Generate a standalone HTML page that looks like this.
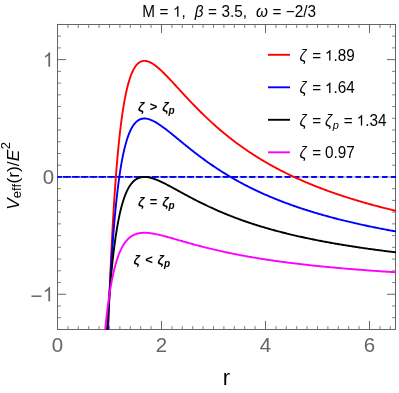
<!DOCTYPE html>
<html><head><meta charset="utf-8"><title>plot</title>
<style>
html,body{margin:0;padding:0;background:#fff;}
body{width:399px;height:393px;overflow:hidden;font-family:"Liberation Sans",sans-serif;}
svg{display:block;will-change:transform;}
text{font-family:"Liberation Sans",sans-serif;font-kerning:none;}
</style></head><body>
<svg width="399" height="393" viewBox="0 0 399 393">
<rect x="0" y="0" width="399" height="393" fill="#ffffff"/>
<defs><clipPath id="c"><rect x="57.00" y="24.00" width="339.00" height="306.00"/></clipPath></defs>

<g>
<line x1="57.50" y1="329.50" x2="57.50" y2="321.00" stroke="#666666" stroke-width="1"/>
<line x1="57.50" y1="24.50" x2="57.50" y2="33.00" stroke="#666666" stroke-width="1"/>
<line x1="67.90" y1="329.50" x2="67.90" y2="326.10" stroke="#707070" stroke-width="0.9"/>
<line x1="67.90" y1="24.50" x2="67.90" y2="27.90" stroke="#707070" stroke-width="0.9"/>
<line x1="78.30" y1="329.50" x2="78.30" y2="326.10" stroke="#707070" stroke-width="0.9"/>
<line x1="78.30" y1="24.50" x2="78.30" y2="27.90" stroke="#707070" stroke-width="0.9"/>
<line x1="88.70" y1="329.50" x2="88.70" y2="326.10" stroke="#707070" stroke-width="0.9"/>
<line x1="88.70" y1="24.50" x2="88.70" y2="27.90" stroke="#707070" stroke-width="0.9"/>
<line x1="99.10" y1="329.50" x2="99.10" y2="326.10" stroke="#707070" stroke-width="0.9"/>
<line x1="99.10" y1="24.50" x2="99.10" y2="27.90" stroke="#707070" stroke-width="0.9"/>
<line x1="109.50" y1="329.50" x2="109.50" y2="326.10" stroke="#707070" stroke-width="0.9"/>
<line x1="109.50" y1="24.50" x2="109.50" y2="27.90" stroke="#707070" stroke-width="0.9"/>
<line x1="119.90" y1="329.50" x2="119.90" y2="326.10" stroke="#707070" stroke-width="0.9"/>
<line x1="119.90" y1="24.50" x2="119.90" y2="27.90" stroke="#707070" stroke-width="0.9"/>
<line x1="130.30" y1="329.50" x2="130.30" y2="326.10" stroke="#707070" stroke-width="0.9"/>
<line x1="130.30" y1="24.50" x2="130.30" y2="27.90" stroke="#707070" stroke-width="0.9"/>
<line x1="140.70" y1="329.50" x2="140.70" y2="326.10" stroke="#707070" stroke-width="0.9"/>
<line x1="140.70" y1="24.50" x2="140.70" y2="27.90" stroke="#707070" stroke-width="0.9"/>
<line x1="151.10" y1="329.50" x2="151.10" y2="326.10" stroke="#707070" stroke-width="0.9"/>
<line x1="151.10" y1="24.50" x2="151.10" y2="27.90" stroke="#707070" stroke-width="0.9"/>
<line x1="161.50" y1="329.50" x2="161.50" y2="321.00" stroke="#666666" stroke-width="1"/>
<line x1="161.50" y1="24.50" x2="161.50" y2="33.00" stroke="#666666" stroke-width="1"/>
<line x1="171.90" y1="329.50" x2="171.90" y2="326.10" stroke="#707070" stroke-width="0.9"/>
<line x1="171.90" y1="24.50" x2="171.90" y2="27.90" stroke="#707070" stroke-width="0.9"/>
<line x1="182.30" y1="329.50" x2="182.30" y2="326.10" stroke="#707070" stroke-width="0.9"/>
<line x1="182.30" y1="24.50" x2="182.30" y2="27.90" stroke="#707070" stroke-width="0.9"/>
<line x1="192.70" y1="329.50" x2="192.70" y2="326.10" stroke="#707070" stroke-width="0.9"/>
<line x1="192.70" y1="24.50" x2="192.70" y2="27.90" stroke="#707070" stroke-width="0.9"/>
<line x1="203.10" y1="329.50" x2="203.10" y2="326.10" stroke="#707070" stroke-width="0.9"/>
<line x1="203.10" y1="24.50" x2="203.10" y2="27.90" stroke="#707070" stroke-width="0.9"/>
<line x1="213.50" y1="329.50" x2="213.50" y2="326.10" stroke="#707070" stroke-width="0.9"/>
<line x1="213.50" y1="24.50" x2="213.50" y2="27.90" stroke="#707070" stroke-width="0.9"/>
<line x1="223.90" y1="329.50" x2="223.90" y2="326.10" stroke="#707070" stroke-width="0.9"/>
<line x1="223.90" y1="24.50" x2="223.90" y2="27.90" stroke="#707070" stroke-width="0.9"/>
<line x1="234.30" y1="329.50" x2="234.30" y2="326.10" stroke="#707070" stroke-width="0.9"/>
<line x1="234.30" y1="24.50" x2="234.30" y2="27.90" stroke="#707070" stroke-width="0.9"/>
<line x1="244.70" y1="329.50" x2="244.70" y2="326.10" stroke="#707070" stroke-width="0.9"/>
<line x1="244.70" y1="24.50" x2="244.70" y2="27.90" stroke="#707070" stroke-width="0.9"/>
<line x1="255.10" y1="329.50" x2="255.10" y2="326.10" stroke="#707070" stroke-width="0.9"/>
<line x1="255.10" y1="24.50" x2="255.10" y2="27.90" stroke="#707070" stroke-width="0.9"/>
<line x1="265.50" y1="329.50" x2="265.50" y2="321.00" stroke="#666666" stroke-width="1"/>
<line x1="265.50" y1="24.50" x2="265.50" y2="33.00" stroke="#666666" stroke-width="1"/>
<line x1="275.90" y1="329.50" x2="275.90" y2="326.10" stroke="#707070" stroke-width="0.9"/>
<line x1="275.90" y1="24.50" x2="275.90" y2="27.90" stroke="#707070" stroke-width="0.9"/>
<line x1="286.30" y1="329.50" x2="286.30" y2="326.10" stroke="#707070" stroke-width="0.9"/>
<line x1="286.30" y1="24.50" x2="286.30" y2="27.90" stroke="#707070" stroke-width="0.9"/>
<line x1="296.70" y1="329.50" x2="296.70" y2="326.10" stroke="#707070" stroke-width="0.9"/>
<line x1="296.70" y1="24.50" x2="296.70" y2="27.90" stroke="#707070" stroke-width="0.9"/>
<line x1="307.10" y1="329.50" x2="307.10" y2="326.10" stroke="#707070" stroke-width="0.9"/>
<line x1="307.10" y1="24.50" x2="307.10" y2="27.90" stroke="#707070" stroke-width="0.9"/>
<line x1="317.50" y1="329.50" x2="317.50" y2="326.10" stroke="#707070" stroke-width="0.9"/>
<line x1="317.50" y1="24.50" x2="317.50" y2="27.90" stroke="#707070" stroke-width="0.9"/>
<line x1="327.90" y1="329.50" x2="327.90" y2="326.10" stroke="#707070" stroke-width="0.9"/>
<line x1="327.90" y1="24.50" x2="327.90" y2="27.90" stroke="#707070" stroke-width="0.9"/>
<line x1="338.30" y1="329.50" x2="338.30" y2="326.10" stroke="#707070" stroke-width="0.9"/>
<line x1="338.30" y1="24.50" x2="338.30" y2="27.90" stroke="#707070" stroke-width="0.9"/>
<line x1="348.70" y1="329.50" x2="348.70" y2="326.10" stroke="#707070" stroke-width="0.9"/>
<line x1="348.70" y1="24.50" x2="348.70" y2="27.90" stroke="#707070" stroke-width="0.9"/>
<line x1="359.10" y1="329.50" x2="359.10" y2="326.10" stroke="#707070" stroke-width="0.9"/>
<line x1="359.10" y1="24.50" x2="359.10" y2="27.90" stroke="#707070" stroke-width="0.9"/>
<line x1="369.50" y1="329.50" x2="369.50" y2="321.00" stroke="#666666" stroke-width="1"/>
<line x1="369.50" y1="24.50" x2="369.50" y2="33.00" stroke="#666666" stroke-width="1"/>
<line x1="379.90" y1="329.50" x2="379.90" y2="326.10" stroke="#707070" stroke-width="0.9"/>
<line x1="379.90" y1="24.50" x2="379.90" y2="27.90" stroke="#707070" stroke-width="0.9"/>
<line x1="390.30" y1="329.50" x2="390.30" y2="326.10" stroke="#707070" stroke-width="0.9"/>
<line x1="390.30" y1="24.50" x2="390.30" y2="27.90" stroke="#707070" stroke-width="0.9"/>
<line x1="57.50" y1="329.45" x2="60.90" y2="329.45" stroke="#707070" stroke-width="0.9"/>
<line x1="395.50" y1="329.45" x2="392.10" y2="329.45" stroke="#707070" stroke-width="0.9"/>
<line x1="57.50" y1="317.72" x2="60.90" y2="317.72" stroke="#707070" stroke-width="0.9"/>
<line x1="395.50" y1="317.72" x2="392.10" y2="317.72" stroke="#707070" stroke-width="0.9"/>
<line x1="57.50" y1="305.99" x2="60.90" y2="305.99" stroke="#707070" stroke-width="0.9"/>
<line x1="395.50" y1="305.99" x2="392.10" y2="305.99" stroke="#707070" stroke-width="0.9"/>
<line x1="57.50" y1="294.26" x2="66.00" y2="294.26" stroke="#666666" stroke-width="1"/>
<line x1="395.50" y1="294.26" x2="387.00" y2="294.26" stroke="#666666" stroke-width="1"/>
<line x1="57.50" y1="282.53" x2="60.90" y2="282.53" stroke="#707070" stroke-width="0.9"/>
<line x1="395.50" y1="282.53" x2="392.10" y2="282.53" stroke="#707070" stroke-width="0.9"/>
<line x1="57.50" y1="270.80" x2="60.90" y2="270.80" stroke="#707070" stroke-width="0.9"/>
<line x1="395.50" y1="270.80" x2="392.10" y2="270.80" stroke="#707070" stroke-width="0.9"/>
<line x1="57.50" y1="259.07" x2="60.90" y2="259.07" stroke="#707070" stroke-width="0.9"/>
<line x1="395.50" y1="259.07" x2="392.10" y2="259.07" stroke="#707070" stroke-width="0.9"/>
<line x1="57.50" y1="247.34" x2="60.90" y2="247.34" stroke="#707070" stroke-width="0.9"/>
<line x1="395.50" y1="247.34" x2="392.10" y2="247.34" stroke="#707070" stroke-width="0.9"/>
<line x1="57.50" y1="235.60" x2="60.90" y2="235.60" stroke="#707070" stroke-width="0.9"/>
<line x1="395.50" y1="235.60" x2="392.10" y2="235.60" stroke="#707070" stroke-width="0.9"/>
<line x1="57.50" y1="223.87" x2="60.90" y2="223.87" stroke="#707070" stroke-width="0.9"/>
<line x1="395.50" y1="223.87" x2="392.10" y2="223.87" stroke="#707070" stroke-width="0.9"/>
<line x1="57.50" y1="212.14" x2="60.90" y2="212.14" stroke="#707070" stroke-width="0.9"/>
<line x1="395.50" y1="212.14" x2="392.10" y2="212.14" stroke="#707070" stroke-width="0.9"/>
<line x1="57.50" y1="200.41" x2="60.90" y2="200.41" stroke="#707070" stroke-width="0.9"/>
<line x1="395.50" y1="200.41" x2="392.10" y2="200.41" stroke="#707070" stroke-width="0.9"/>
<line x1="57.50" y1="188.68" x2="60.90" y2="188.68" stroke="#707070" stroke-width="0.9"/>
<line x1="395.50" y1="188.68" x2="392.10" y2="188.68" stroke="#707070" stroke-width="0.9"/>
<line x1="57.50" y1="176.95" x2="66.00" y2="176.95" stroke="#666666" stroke-width="1"/>
<line x1="395.50" y1="176.95" x2="387.00" y2="176.95" stroke="#666666" stroke-width="1"/>
<line x1="57.50" y1="165.22" x2="60.90" y2="165.22" stroke="#707070" stroke-width="0.9"/>
<line x1="395.50" y1="165.22" x2="392.10" y2="165.22" stroke="#707070" stroke-width="0.9"/>
<line x1="57.50" y1="153.49" x2="60.90" y2="153.49" stroke="#707070" stroke-width="0.9"/>
<line x1="395.50" y1="153.49" x2="392.10" y2="153.49" stroke="#707070" stroke-width="0.9"/>
<line x1="57.50" y1="141.76" x2="60.90" y2="141.76" stroke="#707070" stroke-width="0.9"/>
<line x1="395.50" y1="141.76" x2="392.10" y2="141.76" stroke="#707070" stroke-width="0.9"/>
<line x1="57.50" y1="130.03" x2="60.90" y2="130.03" stroke="#707070" stroke-width="0.9"/>
<line x1="395.50" y1="130.03" x2="392.10" y2="130.03" stroke="#707070" stroke-width="0.9"/>
<line x1="57.50" y1="118.29" x2="60.90" y2="118.29" stroke="#707070" stroke-width="0.9"/>
<line x1="395.50" y1="118.29" x2="392.10" y2="118.29" stroke="#707070" stroke-width="0.9"/>
<line x1="57.50" y1="106.56" x2="60.90" y2="106.56" stroke="#707070" stroke-width="0.9"/>
<line x1="395.50" y1="106.56" x2="392.10" y2="106.56" stroke="#707070" stroke-width="0.9"/>
<line x1="57.50" y1="94.83" x2="60.90" y2="94.83" stroke="#707070" stroke-width="0.9"/>
<line x1="395.50" y1="94.83" x2="392.10" y2="94.83" stroke="#707070" stroke-width="0.9"/>
<line x1="57.50" y1="83.10" x2="60.90" y2="83.10" stroke="#707070" stroke-width="0.9"/>
<line x1="395.50" y1="83.10" x2="392.10" y2="83.10" stroke="#707070" stroke-width="0.9"/>
<line x1="57.50" y1="71.37" x2="60.90" y2="71.37" stroke="#707070" stroke-width="0.9"/>
<line x1="395.50" y1="71.37" x2="392.10" y2="71.37" stroke="#707070" stroke-width="0.9"/>
<line x1="57.50" y1="59.64" x2="66.00" y2="59.64" stroke="#666666" stroke-width="1"/>
<line x1="395.50" y1="59.64" x2="387.00" y2="59.64" stroke="#666666" stroke-width="1"/>
<line x1="57.50" y1="47.91" x2="60.90" y2="47.91" stroke="#707070" stroke-width="0.9"/>
<line x1="395.50" y1="47.91" x2="392.10" y2="47.91" stroke="#707070" stroke-width="0.9"/>
<line x1="57.50" y1="36.18" x2="60.90" y2="36.18" stroke="#707070" stroke-width="0.9"/>
<line x1="395.50" y1="36.18" x2="392.10" y2="36.18" stroke="#707070" stroke-width="0.9"/>
<line x1="57.50" y1="24.45" x2="60.90" y2="24.45" stroke="#707070" stroke-width="0.9"/>
<line x1="395.50" y1="24.45" x2="392.10" y2="24.45" stroke="#707070" stroke-width="0.9"/>
</g>
<rect x="57.50" y="24.50" width="338.00" height="305.00" fill="none" stroke="#666666" stroke-width="1"/>
<g clip-path="url(#c)">
<line x1="57.50" y1="176.95" x2="395.50" y2="176.95" stroke="#c0c0c0" stroke-width="1.5"/>
<line x1="396.1" y1="176.95" x2="57.5" y2="176.95" stroke="#0000ff" stroke-width="1.75" stroke-dasharray="5.2 3.663"/>
<line x1="396.19" y1="176.95" x2="57.5" y2="176.95" stroke="#0000ff" stroke-width="1.75" stroke-dasharray="5.2 3.59"/>
<path d="M107.21 358.65 L107.40 352.52 L107.60 346.51 L107.80 340.63 L107.99 334.86 L108.19 329.20 L108.39 323.66 L108.58 318.23 L108.78 312.90 L108.98 307.68 L109.17 302.56 L109.37 297.55 L109.57 292.63 L109.76 287.81 L109.96 283.09 L110.16 278.45 L110.35 273.91 L110.55 269.46 L110.75 265.10 L110.94 260.82 L111.14 256.62 L111.34 252.51 L111.53 248.47 L111.73 244.52 L111.93 240.64 L112.12 236.83 L112.32 233.11 L112.52 229.45 L112.71 225.86 L112.91 222.35 L113.11 218.90 L113.30 215.52 L113.50 212.20 L113.69 208.95 L113.89 205.76 L114.09 202.64 L114.28 199.57 L114.48 196.56 L114.68 193.61 L114.87 190.72 L115.07 187.89 L115.27 185.11 L115.46 182.38 L115.66 179.70 L115.86 177.08 L116.05 174.51 L116.25 171.99 L116.45 169.51 L116.64 167.09 L116.84 164.71 L117.04 162.37 L117.23 160.09 L117.43 157.84 L117.63 155.64 L117.82 153.49 L118.02 151.37 L118.22 149.30 L118.41 147.26 L118.61 145.27 L118.81 143.31 L119.00 141.40 L119.20 139.52 L119.40 137.67 L119.59 135.86 L119.79 134.09 L119.99 132.36 L120.18 130.65 L120.38 128.98 L120.58 127.35 L120.77 125.74 L120.97 124.17 L121.17 122.63 L121.36 121.11 L121.56 119.63 L121.76 118.18 L121.95 116.76 L122.15 115.36 L122.35 113.99 L122.54 112.66 L122.74 111.34 L122.94 110.06 L123.13 108.80 L123.33 107.56 L123.53 106.35 L123.72 105.17 L123.92 104.00 L124.12 102.87 L124.31 101.75 L124.51 100.66 L124.71 99.59 L124.90 98.54 L125.10 97.52 L126.16 92.33 L127.23 87.71 L128.29 83.61 L129.36 79.98 L130.42 76.77 L131.48 73.96 L132.55 71.50 L133.61 69.37 L134.68 67.54 L135.74 65.98 L136.81 64.66 L137.87 63.58 L138.93 62.70 L140.00 62.01 L141.06 61.49 L142.13 61.14 L143.19 60.92 L144.25 60.85 L145.32 60.89 L146.38 61.04 L147.45 61.30 L148.51 61.64 L149.57 62.08 L150.64 62.59 L151.70 63.16 L152.77 63.81 L153.83 64.51 L154.89 65.27 L155.96 66.07 L157.02 66.92 L158.09 67.80 L159.15 68.73 L160.22 69.68 L161.28 70.67 L162.34 71.67 L163.41 72.71 L164.47 73.76 L165.54 74.83 L166.60 75.92 L167.66 77.02 L168.73 78.14 L169.79 79.26 L170.86 80.39 L171.92 81.53 L172.98 82.68 L174.05 83.83 L175.11 84.99 L176.18 86.15 L177.24 87.31 L178.30 88.47 L179.37 89.63 L180.43 90.78 L181.50 91.94 L182.56 93.10 L183.63 94.25 L184.69 95.40 L185.75 96.55 L186.82 97.69 L187.88 98.82 L188.95 99.95 L190.01 101.08 L191.07 102.20 L192.14 103.31 L193.20 104.42 L194.27 105.52 L195.33 106.62 L196.39 107.70 L197.46 108.78 L198.52 109.86 L199.59 110.92 L200.65 111.98 L201.71 113.03 L202.78 114.07 L203.84 115.11 L204.91 116.13 L205.97 117.15 L207.04 118.16 L208.10 119.16 L209.16 120.16 L210.23 121.14 L211.29 122.12 L212.36 123.09 L213.42 124.05 L214.48 125.01 L215.55 125.95 L216.61 126.89 L217.68 127.82 L218.74 128.74 L219.80 129.66 L220.87 130.56 L221.93 131.46 L223.00 132.35 L224.06 133.23 L225.12 134.10 L226.19 134.97 L227.25 135.83 L228.32 136.68 L229.38 137.52 L230.45 138.36 L231.51 139.19 L232.57 140.01 L233.64 140.82 L234.70 141.63 L235.77 142.42 L236.83 143.22 L237.89 144.00 L238.96 144.78 L240.02 145.55 L241.09 146.31 L242.15 147.07 L243.21 147.82 L244.28 148.56 L245.34 149.30 L246.41 150.03 L247.47 150.75 L248.53 151.47 L249.60 152.18 L250.66 152.88 L251.73 153.58 L252.79 154.27 L253.86 154.96 L254.92 155.64 L255.98 156.31 L257.05 156.98 L258.11 157.64 L259.18 158.30 L260.24 158.95 L261.30 159.59 L262.37 160.23 L263.43 160.86 L264.50 161.49 L265.56 162.11 L266.62 162.73 L267.69 163.34 L268.75 163.95 L269.82 164.55 L270.88 165.15 L271.94 165.74 L273.01 166.32 L274.07 166.90 L275.14 167.48 L276.20 168.05 L277.27 168.62 L278.33 169.18 L279.39 169.73 L280.46 170.29 L281.52 170.83 L282.59 171.38 L283.65 171.92 L284.71 172.45 L285.78 172.98 L286.84 173.50 L287.91 174.02 L288.97 174.54 L290.03 175.05 L291.10 175.56 L292.16 176.06 L293.23 176.56 L294.29 177.06 L295.35 177.55 L296.42 178.04 L297.48 178.52 L298.55 179.00 L299.61 179.48 L300.68 179.95 L301.74 180.42 L302.80 180.89 L303.87 181.35 L304.93 181.80 L306.00 182.26 L307.06 182.71 L308.12 183.16 L309.19 183.60 L310.25 184.04 L311.32 184.48 L312.38 184.91 L313.44 185.34 L314.51 185.77 L315.57 186.19 L316.64 186.61 L317.70 187.03 L318.76 187.44 L319.83 187.85 L320.89 188.26 L321.96 188.66 L323.02 189.07 L324.09 189.47 L325.15 189.86 L326.21 190.25 L327.28 190.64 L328.34 191.03 L329.41 191.41 L330.47 191.80 L331.53 192.17 L332.60 192.55 L333.66 192.92 L334.73 193.29 L335.79 193.66 L336.85 194.03 L337.92 194.39 L338.98 194.75 L340.05 195.11 L341.11 195.46 L342.17 195.81 L343.24 196.16 L344.30 196.51 L345.37 196.86 L346.43 197.20 L347.50 197.54 L348.56 197.88 L349.62 198.21 L350.69 198.55 L351.75 198.88 L352.82 199.21 L353.88 199.53 L354.94 199.86 L356.01 200.18 L357.07 200.50 L358.14 200.82 L359.20 201.13 L360.26 201.44 L361.33 201.76 L362.39 202.06 L363.46 202.37 L364.52 202.68 L365.58 202.98 L366.65 203.28 L367.71 203.58 L368.78 203.88 L369.84 204.17 L370.91 204.47 L371.97 204.76 L373.03 205.05 L374.10 205.33 L375.16 205.62 L376.23 205.90 L377.29 206.19 L378.35 206.47 L379.42 206.74 L380.48 207.02 L381.55 207.30 L382.61 207.57 L383.67 207.84 L384.74 208.11 L385.80 208.38 L386.87 208.64 L387.93 208.91 L388.99 209.17 L390.06 209.43 L391.12 209.69 L392.19 209.95 L393.25 210.21 L394.32 210.46 L395.38 210.72 L396.44 210.97 L397.51 211.22 L398.57 211.47 L399.64 211.72 L400.70 211.96" fill="none" stroke="#ff0000" stroke-width="1.9" stroke-linejoin="round"/>
<path d="M106.42 362.17 L106.62 357.16 L106.81 352.26 L107.01 347.45 L107.21 342.74 L107.40 338.13 L107.60 333.60 L107.80 329.17 L107.99 324.83 L108.19 320.57 L108.39 316.40 L108.58 312.30 L108.78 308.30 L108.98 304.37 L109.17 300.51 L109.37 296.74 L109.57 293.03 L109.76 289.41 L109.96 285.85 L110.16 282.36 L110.35 278.94 L110.55 275.59 L110.75 272.30 L110.94 269.08 L111.14 265.92 L111.34 262.82 L111.53 259.78 L111.73 256.81 L111.93 253.88 L112.12 251.02 L112.32 248.21 L112.52 245.46 L112.71 242.76 L112.91 240.11 L113.11 237.52 L113.30 234.97 L113.50 232.48 L113.69 230.03 L113.89 227.63 L114.09 225.27 L114.28 222.96 L114.48 220.70 L114.68 218.48 L114.87 216.30 L115.07 214.17 L115.27 212.07 L115.46 210.02 L115.66 208.01 L115.86 206.03 L116.05 204.09 L116.25 202.19 L116.45 200.33 L116.64 198.51 L116.84 196.71 L117.04 194.96 L117.23 193.24 L117.43 191.55 L117.63 189.89 L117.82 188.27 L118.02 186.67 L118.22 185.11 L118.41 183.58 L118.61 182.08 L118.81 180.61 L119.00 179.16 L119.20 177.75 L119.40 176.36 L119.59 175.00 L119.79 173.66 L119.99 172.35 L120.18 171.07 L120.38 169.81 L120.58 168.58 L120.77 167.37 L120.97 166.19 L121.17 165.03 L121.36 163.89 L121.56 162.77 L121.76 161.68 L121.95 160.61 L122.15 159.56 L122.35 158.53 L122.54 157.52 L122.74 156.53 L122.94 155.56 L123.13 154.62 L123.33 153.69 L123.53 152.77 L123.72 151.88 L123.92 151.01 L124.12 150.15 L124.31 149.31 L124.51 148.49 L124.71 147.68 L124.90 146.90 L125.10 146.12 L126.16 142.22 L127.23 138.74 L128.29 135.65 L129.36 132.92 L130.42 130.50 L131.48 128.39 L132.55 126.54 L133.61 124.93 L134.68 123.55 L135.74 122.38 L136.81 121.39 L137.87 120.57 L138.93 119.91 L140.00 119.39 L141.06 119.00 L142.13 118.73 L143.19 118.57 L144.25 118.51 L145.32 118.54 L146.38 118.66 L147.45 118.85 L148.51 119.11 L149.57 119.44 L150.64 119.82 L151.70 120.26 L152.77 120.74 L153.83 121.27 L154.89 121.84 L155.96 122.45 L157.02 123.08 L158.09 123.75 L159.15 124.45 L160.22 125.16 L161.28 125.91 L162.34 126.67 L163.41 127.44 L164.47 128.24 L165.54 129.04 L166.60 129.86 L167.66 130.69 L168.73 131.53 L169.79 132.38 L170.86 133.23 L171.92 134.09 L172.98 134.95 L174.05 135.82 L175.11 136.69 L176.18 137.56 L177.24 138.43 L178.30 139.31 L179.37 140.18 L180.43 141.05 L181.50 141.93 L182.56 142.80 L183.63 143.66 L184.69 144.53 L185.75 145.39 L186.82 146.25 L187.88 147.11 L188.95 147.96 L190.01 148.81 L191.07 149.65 L192.14 150.49 L193.20 151.32 L194.27 152.15 L195.33 152.97 L196.39 153.79 L197.46 154.61 L198.52 155.41 L199.59 156.22 L200.65 157.01 L201.71 157.80 L202.78 158.59 L203.84 159.37 L204.91 160.14 L205.97 160.91 L207.04 161.67 L208.10 162.42 L209.16 163.17 L210.23 163.91 L211.29 164.65 L212.36 165.38 L213.42 166.10 L214.48 166.82 L215.55 167.53 L216.61 168.24 L217.68 168.94 L218.74 169.63 L219.80 170.32 L220.87 171.00 L221.93 171.68 L223.00 172.35 L224.06 173.01 L225.12 173.67 L226.19 174.32 L227.25 174.97 L228.32 175.61 L229.38 176.24 L230.45 176.87 L231.51 177.50 L232.57 178.12 L233.64 178.73 L234.70 179.33 L235.77 179.94 L236.83 180.53 L237.89 181.12 L238.96 181.71 L240.02 182.29 L241.09 182.86 L242.15 183.43 L243.21 184.00 L244.28 184.56 L245.34 185.11 L246.41 185.66 L247.47 186.21 L248.53 186.75 L249.60 187.28 L250.66 187.81 L251.73 188.34 L252.79 188.86 L253.86 189.37 L254.92 189.89 L255.98 190.39 L257.05 190.90 L258.11 191.39 L259.18 191.89 L260.24 192.38 L261.30 192.86 L262.37 193.34 L263.43 193.82 L264.50 194.29 L265.56 194.76 L266.62 195.23 L267.69 195.69 L268.75 196.14 L269.82 196.60 L270.88 197.04 L271.94 197.49 L273.01 197.93 L274.07 198.37 L275.14 198.80 L276.20 199.23 L277.27 199.66 L278.33 200.08 L279.39 200.50 L280.46 200.91 L281.52 201.33 L282.59 201.74 L283.65 202.14 L284.71 202.54 L285.78 202.94 L286.84 203.34 L287.91 203.73 L288.97 204.12 L290.03 204.50 L291.10 204.89 L292.16 205.27 L293.23 205.64 L294.29 206.01 L295.35 206.38 L296.42 206.75 L297.48 207.12 L298.55 207.48 L299.61 207.84 L300.68 208.19 L301.74 208.55 L302.80 208.90 L303.87 209.24 L304.93 209.59 L306.00 209.93 L307.06 210.27 L308.12 210.60 L309.19 210.94 L310.25 211.27 L311.32 211.60 L312.38 211.93 L313.44 212.25 L314.51 212.57 L315.57 212.89 L316.64 213.21 L317.70 213.52 L318.76 213.83 L319.83 214.14 L320.89 214.45 L321.96 214.75 L323.02 215.05 L324.09 215.36 L325.15 215.65 L326.21 215.95 L327.28 216.24 L328.34 216.53 L329.41 216.82 L330.47 217.11 L331.53 217.40 L332.60 217.68 L333.66 217.96 L334.73 218.24 L335.79 218.52 L336.85 218.79 L337.92 219.06 L338.98 219.33 L340.05 219.60 L341.11 219.87 L342.17 220.14 L343.24 220.40 L344.30 220.66 L345.37 220.92 L346.43 221.18 L347.50 221.43 L348.56 221.69 L349.62 221.94 L350.69 222.19 L351.75 222.44 L352.82 222.69 L353.88 222.93 L354.94 223.18 L356.01 223.42 L357.07 223.66 L358.14 223.90 L359.20 224.14 L360.26 224.37 L361.33 224.61 L362.39 224.84 L363.46 225.07 L364.52 225.30 L365.58 225.53 L366.65 225.76 L367.71 225.98 L368.78 226.21 L369.84 226.43 L370.91 226.65 L371.97 226.87 L373.03 227.09 L374.10 227.30 L375.16 227.52 L376.23 227.73 L377.29 227.94 L378.35 228.16 L379.42 228.37 L380.48 228.57 L381.55 228.78 L382.61 228.99 L383.67 229.19 L384.74 229.39 L385.80 229.60 L386.87 229.80 L387.93 230.00 L388.99 230.19 L390.06 230.39 L391.12 230.59 L392.19 230.78 L393.25 230.97 L394.32 231.17 L395.38 231.36 L396.44 231.55 L397.51 231.74 L398.57 231.92 L399.64 232.11 L400.70 232.29" fill="none" stroke="#0000ff" stroke-width="1.9" stroke-linejoin="round"/>
<path d="M105.24 361.15 L105.44 357.37 L105.63 353.67 L105.83 350.04 L106.03 346.49 L106.22 343.01 L106.42 339.60 L106.62 336.26 L106.81 332.98 L107.01 329.77 L107.21 326.63 L107.40 323.55 L107.60 320.53 L107.80 317.57 L107.99 314.67 L108.19 311.82 L108.39 309.04 L108.58 306.31 L108.78 303.63 L108.98 301.01 L109.17 298.43 L109.37 295.91 L109.57 293.44 L109.76 291.02 L109.96 288.64 L110.16 286.32 L110.35 284.03 L110.55 281.79 L110.75 279.60 L110.94 277.45 L111.14 275.34 L111.34 273.27 L111.53 271.24 L111.73 269.25 L111.93 267.31 L112.12 265.39 L112.32 263.52 L112.52 261.68 L112.71 259.88 L112.91 258.11 L113.11 256.38 L113.30 254.68 L113.50 253.01 L113.69 251.38 L113.89 249.77 L114.09 248.20 L114.28 246.66 L114.48 245.15 L114.68 243.67 L114.87 242.21 L115.07 240.79 L115.27 239.39 L115.46 238.02 L115.66 236.68 L115.86 235.36 L116.05 234.06 L116.25 232.80 L116.45 231.55 L116.64 230.33 L116.84 229.14 L117.04 227.96 L117.23 226.81 L117.43 225.69 L117.63 224.58 L117.82 223.50 L118.02 222.43 L118.22 221.39 L118.41 220.37 L118.61 219.37 L118.81 218.38 L119.00 217.42 L119.20 216.47 L119.40 215.55 L119.59 214.64 L119.79 213.75 L119.99 212.87 L120.18 212.02 L120.38 211.18 L120.58 210.36 L120.77 209.55 L120.97 208.76 L121.17 207.98 L121.36 207.22 L121.56 206.48 L121.76 205.75 L121.95 205.03 L122.15 204.33 L122.35 203.65 L122.54 202.97 L122.74 202.31 L122.94 201.67 L123.13 201.03 L123.33 200.41 L123.53 199.80 L123.72 199.21 L123.92 198.62 L124.12 198.05 L124.31 197.49 L124.51 196.94 L124.71 196.41 L124.90 195.88 L125.10 195.36 L126.16 192.76 L127.23 190.43 L128.29 188.37 L129.36 186.54 L130.42 184.93 L131.48 183.52 L132.55 182.29 L133.61 181.21 L134.68 180.29 L135.74 179.51 L136.81 178.85 L137.87 178.30 L138.93 177.86 L140.00 177.51 L141.06 177.25 L142.13 177.07 L143.19 176.97 L144.25 176.93 L145.32 176.95 L146.38 177.03 L147.45 177.16 L148.51 177.33 L149.57 177.55 L150.64 177.80 L151.70 178.09 L152.77 178.42 L153.83 178.77 L154.89 179.15 L155.96 179.56 L157.02 179.98 L158.09 180.43 L159.15 180.89 L160.22 181.37 L161.28 181.86 L162.34 182.37 L163.41 182.89 L164.47 183.42 L165.54 183.96 L166.60 184.51 L167.66 185.06 L168.73 185.62 L169.79 186.19 L170.86 186.76 L171.92 187.33 L172.98 187.90 L174.05 188.48 L175.11 189.06 L176.18 189.65 L177.24 190.23 L178.30 190.81 L179.37 191.40 L180.43 191.98 L181.50 192.56 L182.56 193.14 L183.63 193.72 L184.69 194.30 L185.75 194.87 L186.82 195.45 L187.88 196.02 L188.95 196.59 L190.01 197.15 L191.07 197.72 L192.14 198.28 L193.20 198.83 L194.27 199.39 L195.33 199.94 L196.39 200.48 L197.46 201.03 L198.52 201.57 L199.59 202.10 L200.65 202.63 L201.71 203.16 L202.78 203.68 L203.84 204.20 L204.91 204.72 L205.97 205.23 L207.04 205.74 L208.10 206.24 L209.16 206.74 L210.23 207.24 L211.29 207.73 L212.36 208.22 L213.42 208.70 L214.48 209.18 L215.55 209.66 L216.61 210.13 L217.68 210.60 L218.74 211.06 L219.80 211.52 L220.87 211.97 L221.93 212.42 L223.00 212.87 L224.06 213.31 L225.12 213.75 L226.19 214.19 L227.25 214.62 L228.32 215.05 L229.38 215.47 L230.45 215.89 L231.51 216.31 L232.57 216.72 L233.64 217.13 L234.70 217.53 L235.77 217.94 L236.83 218.33 L237.89 218.73 L238.96 219.12 L240.02 219.51 L241.09 219.89 L242.15 220.27 L243.21 220.65 L244.28 221.02 L245.34 221.39 L246.41 221.76 L247.47 222.12 L248.53 222.48 L249.60 222.84 L250.66 223.19 L251.73 223.55 L252.79 223.89 L253.86 224.24 L254.92 224.58 L255.98 224.92 L257.05 225.25 L258.11 225.59 L259.18 225.92 L260.24 226.24 L261.30 226.57 L262.37 226.89 L263.43 227.21 L264.50 227.52 L265.56 227.83 L266.62 228.14 L267.69 228.45 L268.75 228.76 L269.82 229.06 L270.88 229.36 L271.94 229.66 L273.01 229.95 L274.07 230.24 L275.14 230.53 L276.20 230.82 L277.27 231.10 L278.33 231.38 L279.39 231.66 L280.46 231.94 L281.52 232.22 L282.59 232.49 L283.65 232.76 L284.71 233.03 L285.78 233.29 L286.84 233.56 L287.91 233.82 L288.97 234.08 L290.03 234.34 L291.10 234.59 L292.16 234.85 L293.23 235.10 L294.29 235.35 L295.35 235.59 L296.42 235.84 L297.48 236.08 L298.55 236.32 L299.61 236.56 L300.68 236.80 L301.74 237.04 L302.80 237.27 L303.87 237.50 L304.93 237.73 L306.00 237.96 L307.06 238.19 L308.12 238.41 L309.19 238.63 L310.25 238.86 L311.32 239.07 L312.38 239.29 L313.44 239.51 L314.51 239.72 L315.57 239.94 L316.64 240.15 L317.70 240.36 L318.76 240.57 L319.83 240.77 L320.89 240.98 L321.96 241.18 L323.02 241.38 L324.09 241.58 L325.15 241.78 L326.21 241.98 L327.28 242.17 L328.34 242.37 L329.41 242.56 L330.47 242.75 L331.53 242.94 L332.60 243.13 L333.66 243.32 L334.73 243.51 L335.79 243.69 L336.85 243.88 L337.92 244.06 L338.98 244.24 L340.05 244.42 L341.11 244.60 L342.17 244.77 L343.24 244.95 L344.30 245.12 L345.37 245.30 L346.43 245.47 L347.50 245.64 L348.56 245.81 L349.62 245.98 L350.69 246.15 L351.75 246.31 L352.82 246.48 L353.88 246.64 L354.94 246.81 L356.01 246.97 L357.07 247.13 L358.14 247.29 L359.20 247.45 L360.26 247.60 L361.33 247.76 L362.39 247.92 L363.46 248.07 L364.52 248.22 L365.58 248.38 L366.65 248.53 L367.71 248.68 L368.78 248.83 L369.84 248.98 L370.91 249.12 L371.97 249.27 L373.03 249.41 L374.10 249.56 L375.16 249.70 L376.23 249.85 L377.29 249.99 L378.35 250.13 L379.42 250.27 L380.48 250.41 L381.55 250.55 L382.61 250.68 L383.67 250.82 L384.74 250.95 L385.80 251.09 L386.87 251.22 L387.93 251.36 L388.99 251.49 L390.06 251.62 L391.12 251.75 L392.19 251.88 L393.25 252.01 L394.32 252.14 L395.38 252.27 L396.44 252.39 L397.51 252.52 L398.57 252.64 L399.64 252.77 L400.70 252.89" fill="none" stroke="#000000" stroke-width="1.9" stroke-linejoin="round"/>
<path d="M102.29 364.54 L102.49 361.83 L102.68 359.18 L102.88 356.58 L103.08 354.04 L103.27 351.55 L103.47 349.11 L103.67 346.72 L103.86 344.38 L104.06 342.09 L104.26 339.85 L104.45 337.65 L104.65 335.50 L104.85 333.40 L105.04 331.33 L105.24 329.31 L105.44 327.33 L105.63 325.39 L105.83 323.49 L106.03 321.63 L106.22 319.80 L106.42 318.02 L106.62 316.27 L106.81 314.55 L107.01 312.87 L107.21 311.22 L107.40 309.61 L107.60 308.02 L107.80 306.47 L107.99 304.95 L108.19 303.46 L108.39 302.00 L108.58 300.57 L108.78 299.17 L108.98 297.80 L109.17 296.45 L109.37 295.13 L109.57 293.83 L109.76 292.56 L109.96 291.32 L110.16 290.10 L110.35 288.90 L110.55 287.73 L110.75 286.58 L110.94 285.45 L111.14 284.35 L111.34 283.26 L111.53 282.20 L111.73 281.16 L111.93 280.14 L112.12 279.13 L112.32 278.15 L112.52 277.19 L112.71 276.24 L112.91 275.32 L113.11 274.41 L113.30 273.52 L113.50 272.65 L113.69 271.79 L113.89 270.95 L114.09 270.13 L114.28 269.32 L114.48 268.53 L114.68 267.75 L114.87 266.99 L115.07 266.24 L115.27 265.51 L115.46 264.79 L115.66 264.09 L115.86 263.39 L116.05 262.72 L116.25 262.05 L116.45 261.40 L116.64 260.76 L116.84 260.14 L117.04 259.52 L117.23 258.92 L117.43 258.33 L117.63 257.75 L117.82 257.18 L118.02 256.62 L118.22 256.08 L118.41 255.54 L118.61 255.02 L118.81 254.50 L119.00 254.00 L119.20 253.50 L119.40 253.01 L119.59 252.54 L119.79 252.07 L119.99 251.61 L120.18 251.17 L120.38 250.73 L120.58 250.29 L120.77 249.87 L120.97 249.46 L121.17 249.05 L121.36 248.65 L121.56 248.26 L121.76 247.88 L121.95 247.51 L122.15 247.14 L122.35 246.78 L122.54 246.42 L122.74 246.08 L122.94 245.74 L123.13 245.41 L123.33 245.08 L123.53 244.76 L123.72 244.45 L123.92 244.15 L124.12 243.85 L124.31 243.55 L124.51 243.27 L124.71 242.98 L124.90 242.71 L125.10 242.44 L126.16 241.07 L127.23 239.85 L128.29 238.77 L129.36 237.82 L130.42 236.97 L131.48 236.23 L132.55 235.59 L133.61 235.02 L134.68 234.54 L135.74 234.13 L136.81 233.78 L137.87 233.50 L138.93 233.27 L140.00 233.08 L141.06 232.95 L142.13 232.85 L143.19 232.80 L144.25 232.78 L145.32 232.79 L146.38 232.83 L147.45 232.90 L148.51 232.99 L149.57 233.10 L150.64 233.24 L151.70 233.39 L152.77 233.56 L153.83 233.74 L154.89 233.94 L155.96 234.15 L157.02 234.38 L158.09 234.61 L159.15 234.85 L160.22 235.11 L161.28 235.36 L162.34 235.63 L163.41 235.90 L164.47 236.18 L165.54 236.46 L166.60 236.75 L167.66 237.04 L168.73 237.33 L169.79 237.63 L170.86 237.93 L171.92 238.23 L172.98 238.53 L174.05 238.83 L175.11 239.14 L176.18 239.44 L177.24 239.75 L178.30 240.05 L179.37 240.36 L180.43 240.66 L181.50 240.97 L182.56 241.27 L183.63 241.58 L184.69 241.88 L185.75 242.18 L186.82 242.48 L187.88 242.78 L188.95 243.08 L190.01 243.38 L191.07 243.67 L192.14 243.96 L193.20 244.26 L194.27 244.55 L195.33 244.83 L196.39 245.12 L197.46 245.41 L198.52 245.69 L199.59 245.97 L200.65 246.25 L201.71 246.52 L202.78 246.80 L203.84 247.07 L204.91 247.34 L205.97 247.61 L207.04 247.88 L208.10 248.14 L209.16 248.40 L210.23 248.66 L211.29 248.92 L212.36 249.17 L213.42 249.43 L214.48 249.68 L215.55 249.93 L216.61 250.17 L217.68 250.42 L218.74 250.66 L219.80 250.90 L220.87 251.14 L221.93 251.38 L223.00 251.61 L224.06 251.84 L225.12 252.07 L226.19 252.30 L227.25 252.53 L228.32 252.75 L229.38 252.97 L230.45 253.19 L231.51 253.41 L232.57 253.63 L233.64 253.84 L234.70 254.06 L235.77 254.27 L236.83 254.47 L237.89 254.68 L238.96 254.89 L240.02 255.09 L241.09 255.29 L242.15 255.49 L243.21 255.69 L244.28 255.88 L245.34 256.08 L246.41 256.27 L247.47 256.46 L248.53 256.65 L249.60 256.84 L250.66 257.02 L251.73 257.21 L252.79 257.39 L253.86 257.57 L254.92 257.75 L255.98 257.92 L257.05 258.10 L258.11 258.27 L259.18 258.45 L260.24 258.62 L261.30 258.79 L262.37 258.96 L263.43 259.12 L264.50 259.29 L265.56 259.45 L266.62 259.62 L267.69 259.78 L268.75 259.94 L269.82 260.09 L270.88 260.25 L271.94 260.41 L273.01 260.56 L274.07 260.71 L275.14 260.87 L276.20 261.02 L277.27 261.17 L278.33 261.31 L279.39 261.46 L280.46 261.61 L281.52 261.75 L282.59 261.89 L283.65 262.03 L284.71 262.17 L285.78 262.31 L286.84 262.45 L287.91 262.59 L288.97 262.73 L290.03 262.86 L291.10 262.99 L292.16 263.13 L293.23 263.26 L294.29 263.39 L295.35 263.52 L296.42 263.65 L297.48 263.77 L298.55 263.90 L299.61 264.03 L300.68 264.15 L301.74 264.27 L302.80 264.40 L303.87 264.52 L304.93 264.64 L306.00 264.76 L307.06 264.88 L308.12 264.99 L309.19 265.11 L310.25 265.23 L311.32 265.34 L312.38 265.46 L313.44 265.57 L314.51 265.68 L315.57 265.79 L316.64 265.90 L317.70 266.01 L318.76 266.12 L319.83 266.23 L320.89 266.34 L321.96 266.45 L323.02 266.55 L324.09 266.66 L325.15 266.76 L326.21 266.86 L327.28 266.97 L328.34 267.07 L329.41 267.17 L330.47 267.27 L331.53 267.37 L332.60 267.47 L333.66 267.57 L334.73 267.67 L335.79 267.76 L336.85 267.86 L337.92 267.95 L338.98 268.05 L340.05 268.14 L341.11 268.24 L342.17 268.33 L343.24 268.42 L344.30 268.51 L345.37 268.60 L346.43 268.69 L347.50 268.78 L348.56 268.87 L349.62 268.96 L350.69 269.05 L351.75 269.14 L352.82 269.22 L353.88 269.31 L354.94 269.39 L356.01 269.48 L357.07 269.56 L358.14 269.65 L359.20 269.73 L360.26 269.81 L361.33 269.89 L362.39 269.98 L363.46 270.06 L364.52 270.14 L365.58 270.22 L366.65 270.30 L367.71 270.37 L368.78 270.45 L369.84 270.53 L370.91 270.61 L371.97 270.68 L373.03 270.76 L374.10 270.84 L375.16 270.91 L376.23 270.99 L377.29 271.06 L378.35 271.13 L379.42 271.21 L380.48 271.28 L381.55 271.35 L382.61 271.43 L383.67 271.50 L384.74 271.57 L385.80 271.64 L386.87 271.71 L387.93 271.78 L388.99 271.85 L390.06 271.92 L391.12 271.99 L392.19 272.05 L393.25 272.12 L394.32 272.19 L395.38 272.25 L396.44 272.32 L397.51 272.39 L398.57 272.45 L399.64 272.52 L400.70 272.58" fill="none" stroke="#ff00ff" stroke-width="1.9" stroke-linejoin="round"/>
</g>
<text transform="translate(51.81,351.60) scale(0.975,1)" font-size="21.00" fill="#666666" xml:space="preserve">0</text>
<text transform="translate(155.81,351.60) scale(0.975,1)" font-size="21.00" fill="#666666" xml:space="preserve">2</text>
<text transform="translate(259.81,351.60) scale(0.975,1)" font-size="21.00" fill="#666666" xml:space="preserve">4</text>
<text transform="translate(363.81,351.60) scale(0.975,1)" font-size="21.00" fill="#666666" xml:space="preserve">6</text>
<path transform="translate(42.81,66.74) scale(0.00955,0.00979)" d="M763 0H583V-1147Q518 -1085 412.5 -1023Q307 -961 223 -930V-1104Q374 -1175 487 -1276Q600 -1377 647 -1472H763Z" fill="#666666"/>
<text transform="translate(42.81,184.05) scale(0.975,1)" font-size="21.00" fill="#666666" xml:space="preserve">0</text>
<text transform="translate(30.46,302.56) scale(0.975,1)" font-size="21.00" fill="#666666" xml:space="preserve">−</text>
<path transform="translate(42.81,301.36) scale(0.00955,0.00979)" d="M763 0H583V-1147Q518 -1085 412.5 -1023Q307 -961 223 -930V-1104Q374 -1175 487 -1276Q600 -1377 647 -1472H763Z" fill="#666666"/>
<text transform="translate(142.30,16.75) scale(0.975,1)" font-size="15.70" fill="#000" word-spacing="0.25" xml:space="preserve">M = </text>
<path transform="translate(173.00,16.75) scale(0.00714,0.00732)" d="M763 0H583V-1147Q518 -1085 412.5 -1023Q307 -961 223 -930V-1104Q374 -1175 487 -1276Q600 -1377 647 -1472H763Z" fill="#000"/>
<text transform="translate(181.51,16.75) scale(0.975,1)" font-size="15.70" fill="#000" word-spacing="0.25" xml:space="preserve">,  </text>
<text transform="translate(194.77,16.75) scale(0.975,1)" font-size="15.70" fill="#000" font-style="italic" word-spacing="0.25" xml:space="preserve">β</text>
<text transform="translate(203.51,16.75) scale(0.975,1)" font-size="15.70" fill="#000" word-spacing="0.25" xml:space="preserve"> = 3.5,  </text>
<text transform="translate(256.00,16.75) scale(0.975,1)" font-size="15.70" fill="#000" font-style="italic" word-spacing="0.25" xml:space="preserve">ω</text>
<text transform="translate(267.92,16.75) scale(0.975,1)" font-size="15.70" fill="#000" word-spacing="0.25" xml:space="preserve"> = −2/3</text>
<text x="226.4" y="385.2" text-anchor="middle" font-size="22" fill="#000">r</text>
<text transform="translate(18.8,209.8) rotate(-90)" font-size="17.3" fill="#000"><tspan font-style="italic">V</tspan><tspan font-size="13" dy="2.6">eff</tspan><tspan dy="-2.6" dx="0.4">(r)/</tspan><tspan font-style="italic">E</tspan><tspan font-size="13" dy="-8.4" dx="0.5">2</tspan></text>
<line x1="268" y1="54.80" x2="290" y2="54.80" stroke="#ff0000" stroke-width="1.9"/>
<text transform="translate(299.50,60.60) scale(0.980,1)" font-size="15.60" fill="#000" font-style="italic" xml:space="preserve">ζ</text>
<text transform="translate(307.98,60.60) scale(0.980,1)" font-size="15.60" fill="#000" xml:space="preserve"> =</text>
<text transform="translate(320.76,60.60) scale(0.980,1)" font-size="15.60" fill="#000" xml:space="preserve"> </text>
<path transform="translate(325.01,60.60) scale(0.00713,0.00727)" d="M763 0H583V-1147Q518 -1085 412.5 -1023Q307 -961 223 -930V-1104Q374 -1175 487 -1276Q600 -1377 647 -1472H763Z" fill="#000"/>
<text transform="translate(333.51,60.60) scale(0.980,1)" font-size="15.60" fill="#000" xml:space="preserve">.89</text>
<line x1="268" y1="87.30" x2="290" y2="87.30" stroke="#0000ff" stroke-width="1.9"/>
<text transform="translate(299.50,93.10) scale(0.980,1)" font-size="15.60" fill="#000" font-style="italic" xml:space="preserve">ζ</text>
<text transform="translate(307.98,93.10) scale(0.980,1)" font-size="15.60" fill="#000" xml:space="preserve"> =</text>
<text transform="translate(320.76,93.10) scale(0.980,1)" font-size="15.60" fill="#000" xml:space="preserve"> </text>
<path transform="translate(325.01,93.10) scale(0.00713,0.00727)" d="M763 0H583V-1147Q518 -1085 412.5 -1023Q307 -961 223 -930V-1104Q374 -1175 487 -1276Q600 -1377 647 -1472H763Z" fill="#000"/>
<text transform="translate(333.51,93.10) scale(0.980,1)" font-size="15.60" fill="#000" xml:space="preserve">.64</text>
<line x1="268" y1="119.80" x2="290" y2="119.80" stroke="#000000" stroke-width="1.9"/>
<text transform="translate(299.50,125.60) scale(0.980,1)" font-size="15.60" fill="#000" font-style="italic" xml:space="preserve">ζ</text>
<text transform="translate(307.98,125.60) scale(0.980,1)" font-size="15.60" fill="#000" xml:space="preserve"> =</text>
<text transform="translate(320.86,125.60) scale(0.980,1)" font-size="15.60" fill="#000" xml:space="preserve"> </text>
<text transform="translate(325.11,125.60) scale(0.980,1)" font-size="15.60" fill="#000" font-style="italic" xml:space="preserve">ζ</text>
<text transform="translate(332.79,128.80) scale(0.980,1)" font-size="11.20" fill="#000" font-style="italic" xml:space="preserve">p</text>
<text transform="translate(339.50,125.60) scale(0.980,1)" font-size="15.60" fill="#000" xml:space="preserve"> =</text>
<text transform="translate(352.47,125.60) scale(0.980,1)" font-size="15.60" fill="#000" xml:space="preserve"> </text>
<path transform="translate(356.72,125.60) scale(0.00713,0.00727)" d="M763 0H583V-1147Q518 -1085 412.5 -1023Q307 -961 223 -930V-1104Q374 -1175 487 -1276Q600 -1377 647 -1472H763Z" fill="#000"/>
<text transform="translate(365.22,125.60) scale(0.980,1)" font-size="15.60" fill="#000" xml:space="preserve">.34</text>
<line x1="268" y1="152.30" x2="290" y2="152.30" stroke="#ff00ff" stroke-width="1.9"/>
<text transform="translate(299.50,158.10) scale(0.980,1)" font-size="15.60" fill="#000" font-style="italic" xml:space="preserve">ζ</text>
<text transform="translate(307.98,158.10) scale(0.980,1)" font-size="15.60" fill="#000" xml:space="preserve"> =</text>
<text transform="translate(320.76,158.10) scale(0.980,1)" font-size="15.60" fill="#000" xml:space="preserve"> 0.97</text>
<text x="138.00" y="111.00" font-size="13.00" fill="#000" font-style="italic" font-weight="bold" word-spacing="1.50" xml:space="preserve">ζ &gt; ζ</text>
<text x="168.60" y="114.00" font-size="10.00" fill="#000" font-style="italic" font-weight="bold" word-spacing="1.50" xml:space="preserve">p</text>
<text x="138.00" y="205.60" font-size="13.00" fill="#000" font-style="italic" font-weight="bold" word-spacing="1.50" xml:space="preserve">ζ = ζ</text>
<text x="168.60" y="208.60" font-size="10.00" fill="#000" font-style="italic" font-weight="bold" word-spacing="1.50" xml:space="preserve">p</text>
<text x="133.40" y="263.60" font-size="13.00" fill="#000" font-style="italic" font-weight="bold" word-spacing="1.50" xml:space="preserve">ζ &lt; ζ</text>
<text x="164.00" y="266.60" font-size="10.00" fill="#000" font-style="italic" font-weight="bold" word-spacing="1.50" xml:space="preserve">p</text>
</svg></body></html>
